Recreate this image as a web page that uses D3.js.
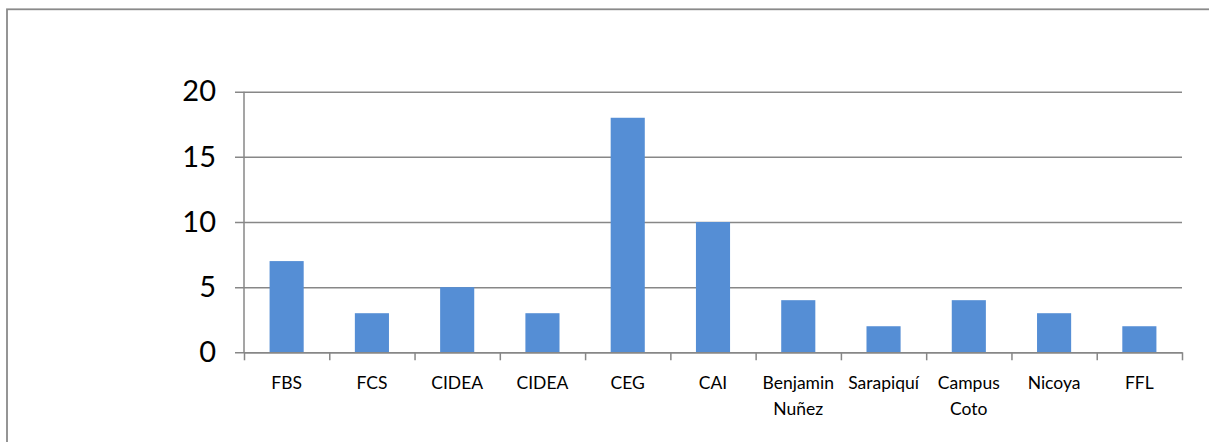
<!DOCTYPE html>
<html>
<head>
<meta charset="utf-8">
<script src="https://cdn.jsdelivr.net/npm/d3@7"></script>
<style>
  html, body { margin: 0; padding: 0; background: #ffffff; }
  svg { display: block; }
</style>
</head>
<body>
<svg id="chart" width="1209" height="442"></svg>
<script>
const categories = ["FBS", "FCS", "CIDEA", "CIDEA", "CEG", "CAI", "Benjamin\nNuñez", "Sarapiquí", "Campus\nCoto", "Nicoya", "FFL"];
const values = [7, 3, 5, 3, 18, 10, 4, 2, 4, 3, 2];
const yTicks = [0, 5, 10, 15, 20];

const W = 1209, H = 442;
const plot = { left: 244, top: 91.7, right: 1182, bottom: 352.3 };
const fontFamily = "Lato, 'Open Sans', sans-serif";
const gray = "#878787";

const svg = d3.select("#chart");

// outer frame
svg.append("rect")
  .attr("x", 7).attr("y", 9.3)
  .attr("width", W + 20).attr("height", H + 20)
  .attr("fill", "none").attr("stroke", "#8a8a8a").attr("stroke-width", 1.8);

const x = d3.scaleBand()
  .domain(d3.range(categories.length))
  .range([plot.left, plot.right])
  .paddingInner(0.6).paddingOuter(0.3);

const xEdges = d3.scaleLinear()
  .domain([0, categories.length])
  .range([plot.left, plot.right]);

const y = d3.scaleLinear().domain([0, 20]).range([plot.bottom, plot.top]);

// gridlines + y labels
const tickOut = 9;
const yAxis = d3.axisLeft(y)
  .tickValues(yTicks)
  .tickSize(-(plot.right - plot.left + tickOut))
  .tickPadding(19)
  .tickFormat(d3.format("d"));

const gy = svg.append("g")
  .attr("transform", `translate(${plot.left - tickOut},0)`)
  .call(yAxis);
gy.select(".domain").remove();
gy.selectAll(".tick line").attr("stroke", gray).attr("stroke-width", 1.5);
gy.selectAll(".tick text")
  .attr("fill", "#000")
  .style("font-family", fontFamily)
  .style("font-size", "29px");

// vertical axis line
svg.append("line")
  .attr("x1", plot.left).attr("x2", plot.left)
  .attr("y1", plot.top).attr("y2", plot.bottom)
  .attr("stroke", gray).attr("stroke-width", 1.5);

// bars
svg.append("g").selectAll("rect")
  .data(values)
  .join("rect")
  .attr("x", (d, i) => x(i))
  .attr("width", x.bandwidth())
  .attr("y", d => y(d))
  .attr("height", d => y(0) - y(d))
  .attr("fill", "#558ed5");

// x axis baseline + tick marks at category edges
const xAxis = d3.axisBottom(xEdges)
  .tickValues(d3.range(categories.length + 1))
  .tickSize(8)
  .tickSizeOuter(0)
  .tickFormat("");
const gx = svg.append("g")
  .attr("transform", `translate(0,${plot.bottom})`)
  .call(xAxis);
gx.select(".domain").attr("stroke", gray).attr("stroke-width", 1.5);
gx.selectAll(".tick line").attr("stroke", gray).attr("stroke-width", 1.5);

// category labels
const labels = svg.append("g");
categories.forEach((c, i) => {
  const cx = x(i) + x.bandwidth() / 2;
  const t = labels.append("text")
    .attr("x", cx).attr("y", 389)
    .attr("text-anchor", "middle")
    .attr("fill", "#000")
    .style("font-family", fontFamily)
    .style("font-size", "17.5px");
  c.split("\n").forEach((line, k) => {
    t.append("tspan").attr("x", cx).attr("dy", k === 0 ? 0 : 26).text(line);
  });
});
</script>
</body>
</html>
